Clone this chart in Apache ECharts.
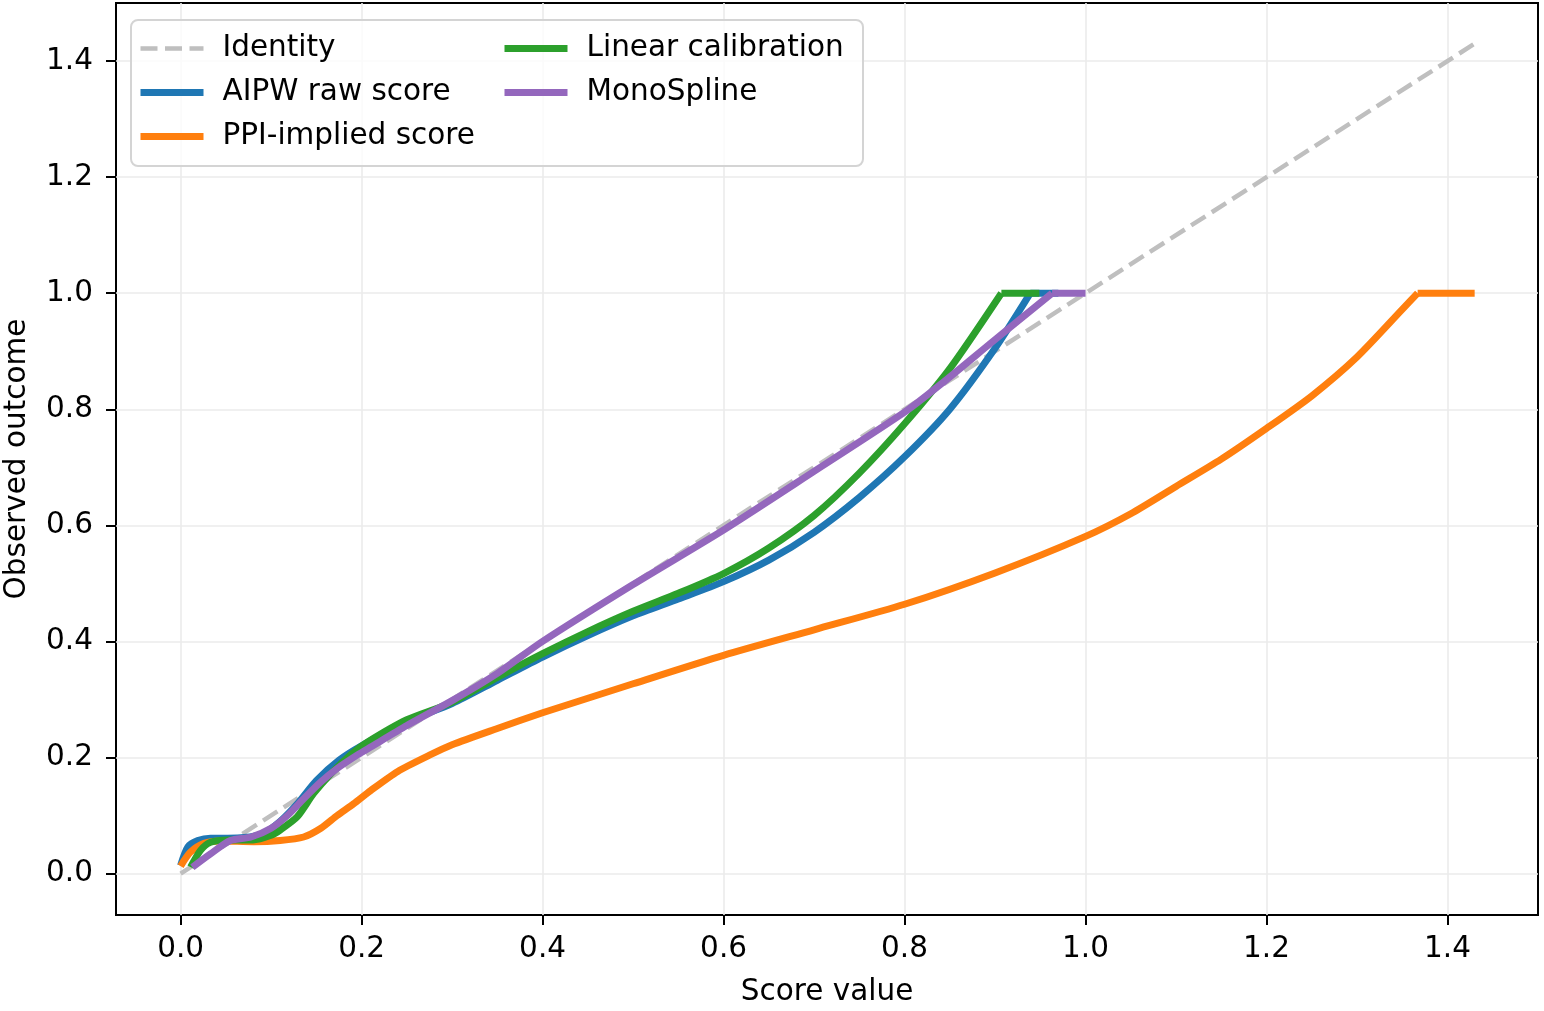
<!doctype html>
<html>
<head>
  <meta charset="UTF-8" />
  <title>Score calibration</title>
  <script src="https://cdn.jsdelivr.net/npm/echarts@6/dist/echarts.min.js"></script>
  <style>
    html, body { margin: 0; padding: 0; background: #fff; }
    #chart { width: 1544px; height: 1011px; }
  </style>
</head>
<body>
  <div id="chart"></div>
  <script>
    // values, [score, observed]
    const identityPts = [[0, 0], [1.4286, 1.4286]];
    const aipwPts = [[0, 0.014], [0.008, 0.046], [0.019, 0.057], [0.033, 0.061], [0.052, 0.061], [0.07, 0.062],
      [0.09, 0.068], [0.11, 0.09], [0.13, 0.122], [0.15, 0.16], [0.175, 0.195], [0.2, 0.22], [0.25, 0.262],
      [0.3, 0.293], [0.35, 0.333], [0.4, 0.373], [0.45, 0.41], [0.5, 0.444], [0.55, 0.473], [0.6, 0.503],
      [0.65, 0.54], [0.7, 0.588], [0.75, 0.648], [0.8, 0.718], [0.85, 0.8], [0.9, 0.905], [0.939, 1.0]];
    const aipwCap = [[0.939, 1.0], [0.97, 1.0]];
    const ppiPts = [[0, 0.013], [0.011, 0.037], [0.026, 0.052], [0.044, 0.056], [0.081, 0.055], [0.11, 0.057],
      [0.136, 0.063], [0.155, 0.078], [0.173, 0.1], [0.191, 0.12], [0.21, 0.143], [0.24, 0.176], [0.275, 0.204],
      [0.3, 0.222], [0.35, 0.25], [0.4, 0.277], [0.45, 0.302], [0.5, 0.327], [0.6, 0.376], [0.7, 0.42], [0.8, 0.464],
      [0.9, 0.518], [1.0, 0.581], [1.05, 0.62], [1.1, 0.667], [1.15, 0.714], [1.2, 0.767], [1.25, 0.823],
      [1.3, 0.89], [1.35, 0.972], [1.367, 1.0]];
    const ppiCap = [[1.367, 1.0], [1.43, 1.0]];
    const linearPts = [[0.011, 0.011], [0.022, 0.04], [0.033, 0.054], [0.052, 0.058], [0.08, 0.058], [0.1, 0.066],
      [0.11, 0.075], [0.129, 0.098], [0.147, 0.138], [0.166, 0.172], [0.188, 0.205], [0.205, 0.225], [0.25, 0.265],
      [0.3, 0.295], [0.35, 0.338], [0.4, 0.379], [0.45, 0.417], [0.5, 0.452], [0.55, 0.483], [0.6, 0.517],
      [0.65, 0.561], [0.7, 0.617], [0.75, 0.69], [0.8, 0.775], [0.85, 0.87], [0.907, 1.0]];
    const linearCap = [[0.907, 1.0], [0.949, 1.0]];
    const monoPts = [[0.013, 0.011], [0.033, 0.034], [0.055, 0.057], [0.078, 0.063], [0.1, 0.078], [0.118, 0.1],
      [0.136, 0.129], [0.155, 0.158], [0.173, 0.181], [0.195, 0.204], [0.21, 0.218], [0.25, 0.255], [0.3, 0.298],
      [0.35, 0.345], [0.4, 0.4], [0.5, 0.498], [0.6, 0.592], [0.7, 0.693], [0.8, 0.795], [0.84, 0.843],
      [0.9, 0.92], [0.963, 1.0]];
    const monoCap = [[0.963, 1.0], [1.0, 1.0]];
    const tickVals = [0, 0.2, 0.4, 0.6, 0.8, 1.0, 1.2, 1.4];
    const names = ['Identity', 'AIPW raw score', 'PPI-implied score', 'Linear calibration', 'MonoSpline'];

    const font = 'DejaVu Sans';
    const fs = 29.5;
    const chart = echarts.init(document.getElementById('chart'), null, { renderer: 'canvas' });

    function axis(name, gap, margin) {
      return {
        type: 'value', min: -0.0714, max: 1.5,
        name: name, nameLocation: 'middle', nameGap: gap,
        nameTextStyle: { fontFamily: font, fontSize: fs, color: '#000' },
        axisLine: { show: false, onZero: false },
        axisTick: { show: true, length: 10, customValues: tickVals, lineStyle: { color: '#000', width: 2 } },
        axisLabel: { customValues: tickVals, margin: margin, fontFamily: font, fontSize: fs, color: '#000',
          formatter: v => v.toFixed(1) },
        splitLine: { show: true, lineStyle: { color: '#ebebeb', width: 1.6 } }
      };
    }

    function line(name, pts, color, extra) {
      return Object.assign({
        name: name, type: 'line', data: pts, showSymbol: false, symbol: 'none', smooth: 0.25,
        lineStyle: { color: color, width: 7, cap: 'butt', join: 'round' },
        itemStyle: { color: color }, animation: false
      }, extra || {});
    }
    // the clipped flat part at 1.0 keeps its sharp corner
    const flat = { smooth: false };

    const legendBase = {
      orient: 'vertical', top: 33.5, padding: 0, itemGap: 14, itemWidth: 63, itemHeight: 14, z: 10,
      lineStyle: { width: 'inherit' },
      itemStyle: { opacity: 0 },
      textStyle: { fontFamily: font, fontSize: fs, color: '#000', lineHeight: 28, padding: [0, 0, 0, 14] }
    };

    chart.setOption({
      animation: false,
      grid: { left: 116, right: 6, top: 3, bottom: 96, show: true, borderColor: '#000', borderWidth: 2,
        backgroundColor: 'transparent', outerBoundsMode: 'none', containLabel: false },
      xAxis: axis('Score value', 62, 19),
      yAxis: axis('Observed outcome', 84, 23),
      legend: [
        Object.assign({ left: 137, data: names.slice(0, 3) }, legendBase),
        Object.assign({ left: 501, data: names.slice(3) }, legendBase)
      ],
      graphic: [{
        type: 'rect', left: 130, top: 19, z: 5,
        shape: { width: 732, height: 146, r: 7 },
        style: { fill: 'rgba(255,255,255,0.8)', stroke: '#d4d4d4', lineWidth: 2 }
      }],
      series: [
        line(names[0], identityPts, '#bfbfbf', { smooth: false, lineStyle: { color: '#bfbfbf', width: 4.5, type: [17, 7.5] } }),
        line(names[1], aipwPts, '#1f77b4'),
        line(names[1], aipwCap, '#1f77b4', flat),
        line(names[2], ppiPts, '#ff7f0e'),
        line(names[2], ppiCap, '#ff7f0e', flat),
        line(names[3], linearPts, '#2ca02c'),
        line(names[3], linearCap, '#2ca02c', flat),
        line(names[4], monoPts, '#9467bd'),
        line(names[4], monoCap, '#9467bd', flat)
      ]
    });
  </script>
</body>
</html>
